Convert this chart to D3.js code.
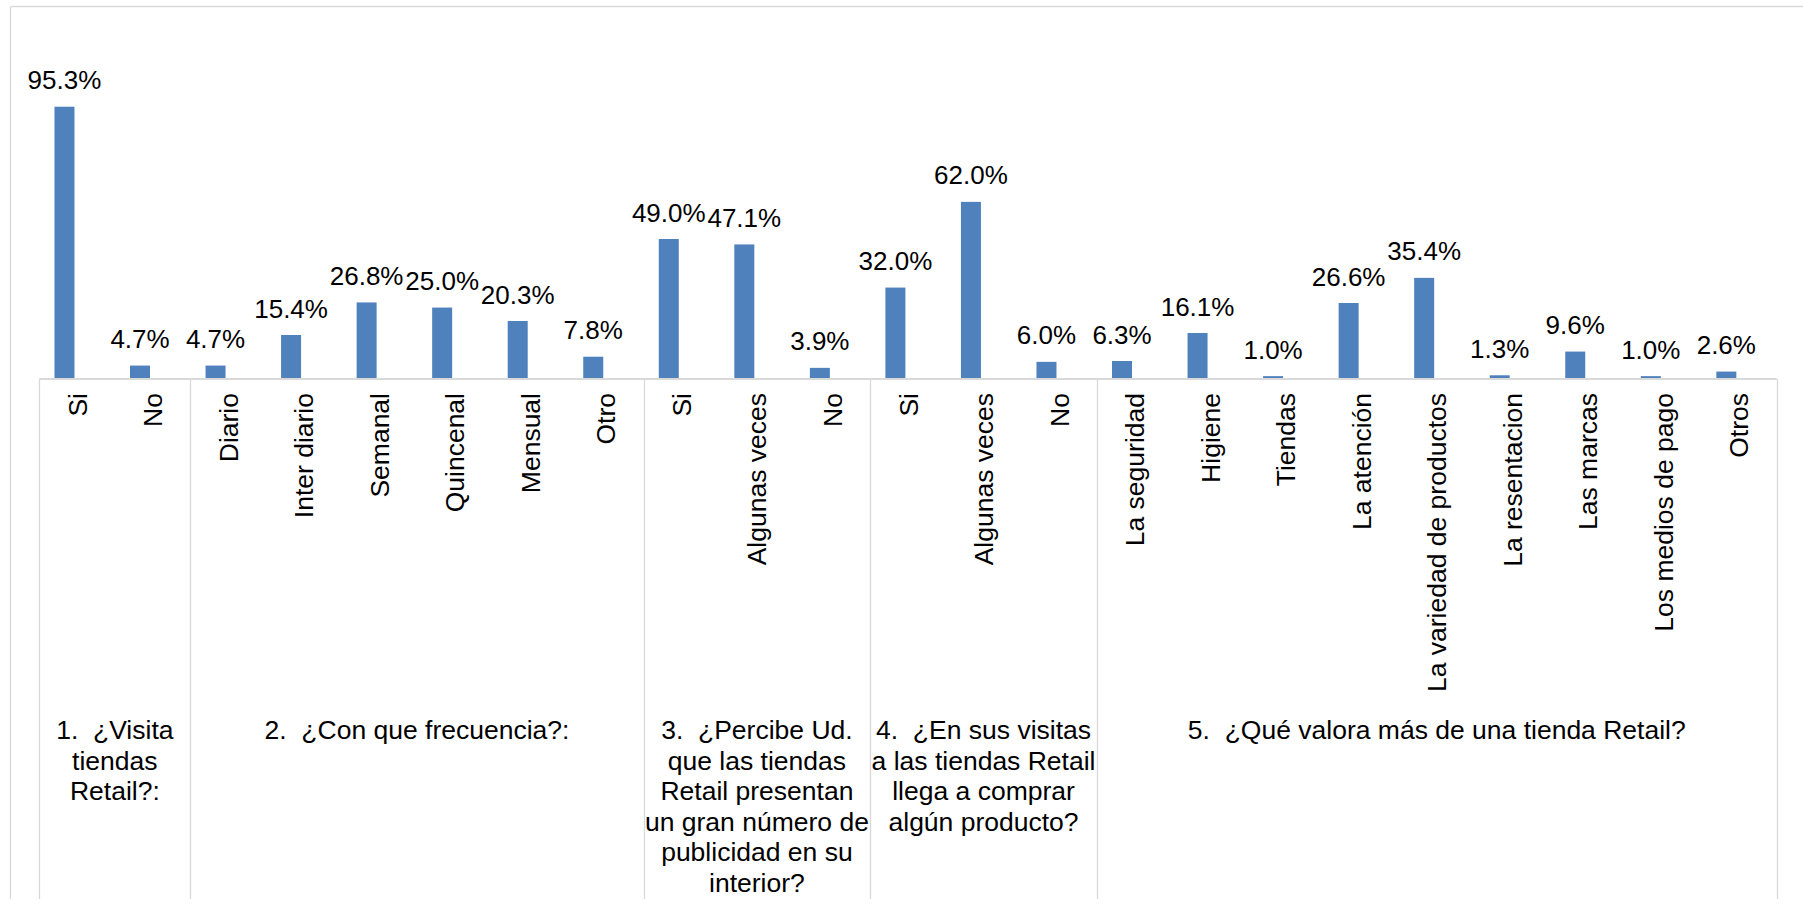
<!DOCTYPE html>
<html>
<head>
<meta charset="utf-8">
<script src="https://cdn.jsdelivr.net/npm/d3@7"></script>
<style>
  html, body { margin: 0; padding: 0; background: #ffffff; }
  svg { display: block; }
  text { font-family: "Liberation Sans", Arial, sans-serif; fill: #000000; }
</style>
</head>
<body>
<svg id="chart" width="1803" height="909"></svg>
<script>
// Survey answers (percent of respondents), grouped by question
const categories = [
  "Si", "No",
  "Diario", "Inter diario", "Semanal", "Quincenal", "Mensual", "Otro",
  "Si", "Algunas veces", "No",
  "Si", "Algunas veces", "No",
  "La seguridad", "Higiene", "Tiendas", "La atención", "La variedad de productos",
  "La resentacion", "Las marcas", "Los medios de pago", "Otros"
];
const values = [
  95.3, 4.7,
  4.7, 15.4, 26.8, 25.0, 20.3, 7.8,
  49.0, 47.1, 3.9,
  32.0, 62.0, 6.0,
  6.3, 16.1, 1.0, 26.6, 35.4, 1.3, 9.6, 1.0, 2.6
];
// Number of answer options under each question
const groupSizes = [2, 6, 3, 3, 9];
// Question text, one entry per printed line
const groupLabels = [
  ["1.  ¿Visita", "tiendas", "Retail?:"],
  ["2.  ¿Con que frecuencia?:"],
  ["3.  ¿Percibe Ud.", "que las tiendas", "Retail presentan", "un gran número de", "publicidad en su", "interior?"],
  ["4.  ¿En sus visitas", "a las tiendas Retail", "llega a comprar", "algún producto?"],
  ["5.  ¿Qué valora más de una tienda Retail?"]
];

const W = 1803, H = 909;
const axisLeft = 39.3, axisRight = 1776.7;
const baseY = 379, bottomY = 899;
const gridColor = "#d9d9d9";
const barColor = "#4f81bd";
const valueFont = 26;
const labelFont = 26.5;

const svg = d3.select("#chart");

// Outer chart frame (left and top edges visible)
svg.append("line")
  .attr("x1", 10.5).attr("x2", 10.5).attr("y1", 6.5).attr("y2", bottomY)
  .attr("stroke", gridColor).attr("stroke-width", 1.3);
svg.append("line")
  .attr("x1", 10.5).attr("x2", W).attr("y1", 6.5).attr("y2", 6.5)
  .attr("stroke", gridColor).attr("stroke-width", 1.3);

const x = d3.scaleBand()
  .domain(d3.range(categories.length))
  .range([axisLeft, axisRight])
  .padding(0);

const y = d3.scaleLinear()
  .domain([0, 100])
  .range([baseY, 93.3]);

const barWidth = 20;
const barShift = -12.6; // bar sits left of its category centre
const cx = i => x(i) + x.bandwidth() / 2;
const barX = i => cx(i) + barShift - barWidth / 2;

// Bars
svg.append("g").selectAll("rect")
  .data(values)
  .join("rect")
  .attr("x", (d, i) => barX(i))
  .attr("y", d => y(d))
  .attr("width", barWidth)
  .attr("height", d => y(0) - y(d))
  .attr("fill", barColor);

// Value labels
const fmt = d3.format(".1f");
svg.append("g").selectAll("text")
  .data(values)
  .join("text")
  .attr("x", (d, i) => cx(i) + barShift)
  .attr("y", d => y(d) - 17.4)
  .attr("text-anchor", "middle")
  .attr("font-size", valueFont)
  .text(d => fmt(d) + "%");

// Category axis line
svg.append("line")
  .attr("x1", axisLeft).attr("x2", axisRight)
  .attr("y1", baseY).attr("y2", baseY)
  .attr("stroke", gridColor).attr("stroke-width", 1.8);

// Group boundaries on the category axis
const bounds = [0];
groupSizes.forEach(n => bounds.push(bounds[bounds.length - 1] + n));
const boundX = k => k < categories.length ? x(k) : axisRight;

svg.append("g").selectAll("line")
  .data(bounds)
  .join("line")
  .attr("x1", k => Math.round(boundX(k)) + 0.5)
  .attr("x2", k => Math.round(boundX(k)) + 0.5)
  .attr("y1", baseY)
  .attr("y2", bottomY)
  .attr("stroke", gridColor)
  .attr("stroke-width", 1.3);

// Rotated answer labels
svg.append("g").selectAll("text")
  .data(categories)
  .join("text")
  .attr("transform", (d, i) => `translate(${cx(i)},393) rotate(-90)`)
  .attr("text-anchor", "end")
  .attr("dy", "0.36em")
  .attr("font-size", labelFont)
  .text(d => d);

// Question labels, centred under each group
const lineGap = 30.5;
const firstBaseline = 739;
const qg = svg.append("g").selectAll("text")
  .data(groupLabels)
  .join("text")
  .attr("xml:space", "preserve")
  .style("white-space", "pre")
  .attr("text-anchor", "middle")
  .attr("font-size", labelFont)
  .attr("x", (d, g) => (boundX(bounds[g]) + boundX(bounds[g + 1])) / 2)
  .attr("y", firstBaseline);

qg.selectAll("tspan")
  .data((d, g) => d.map(line => ({ line, g })))
  .join("tspan")
  .attr("x", d => (boundX(bounds[d.g]) + boundX(bounds[d.g + 1])) / 2)
  .attr("y", (d, j) => firstBaseline + j * lineGap)
  .text(d => d.line);
</script>
</body>
</html>
